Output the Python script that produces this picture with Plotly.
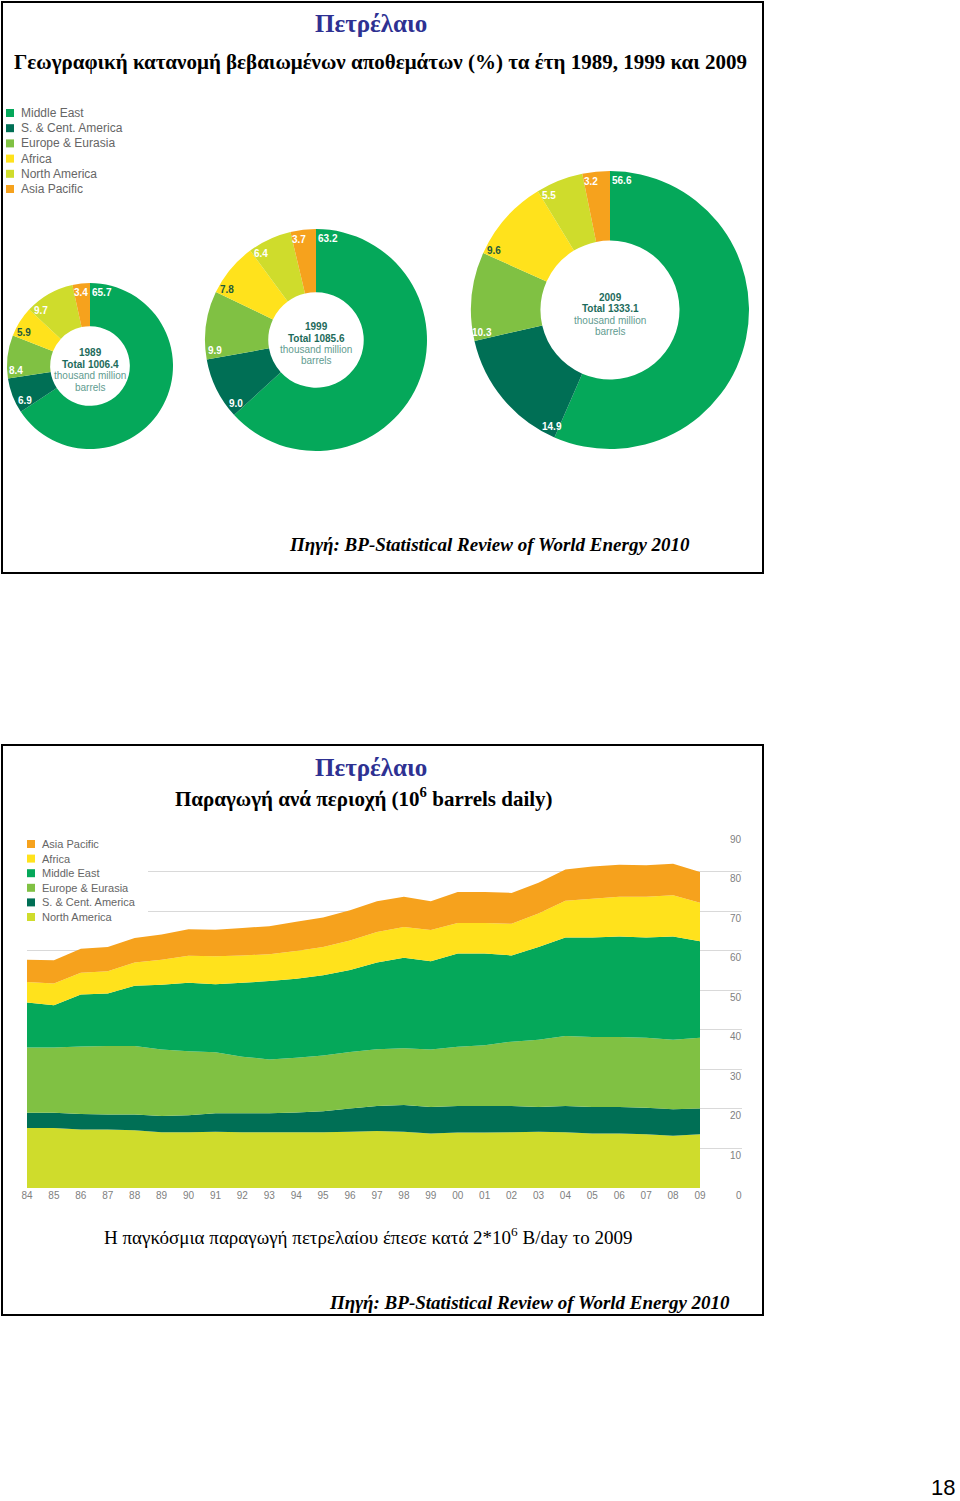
import math
import plotly.graph_objects as go

W, H = 960, 1501

# ---------------- data ----------------
pie_regions = ["Middle East", "S. & Cent. America", "Europe & Eurasia",
               "Africa", "North America", "Asia Pacific"]
share_1989 = [65.7, 6.9, 8.4, 5.9, 9.7, 3.4]
share_1999 = [63.2, 9.0, 9.9, 7.8, 6.4, 3.7]
share_2009 = [56.6, 14.9, 10.3, 9.6, 5.5, 3.2]
pie_years = ["1989", "1999", "2009"]
pie_totals = ["1006.4", "1085.6", "1333.1"]

years = list(range(1984, 2010))
year_labels = ["84", "85", "86", "87", "88", "89", "90", "91", "92", "93", "94",
               "95", "96", "97", "98", "99", "00", "01", "02", "03", "04", "05",
               "06", "07", "08", "09"]
north_america = [15.2, 15.2, 14.8, 14.8, 14.6, 14.1, 14.1, 14.2, 14.1, 14.1, 14.1, 14.1, 14.2,
                 14.4, 14.2, 13.8, 14.0, 14.0, 14.1, 14.2, 14.1, 13.8, 13.8, 13.6, 13.2, 13.6]
s_cent_america = [3.8, 3.8, 3.9, 3.8, 4.0, 4.1, 4.3, 4.7, 4.8, 4.8, 5.0, 5.3, 5.9,
                  6.3, 6.8, 6.7, 6.7, 6.7, 6.6, 6.3, 6.6, 6.7, 6.7, 6.7, 6.7, 6.5]
europe_eurasia = [16.5, 16.5, 17.1, 17.3, 17.3, 16.8, 16.2, 15.4, 14.3, 13.6, 13.8, 14.1, 14.3,
                  14.4, 14.3, 14.5, 15.0, 15.4, 16.3, 17.0, 17.7, 17.7, 17.7, 17.7, 17.6, 17.9]
middle_east = [11.4, 10.7, 13.1, 13.3, 15.2, 16.4, 17.3, 17.2, 18.7, 19.8, 20.0, 20.3, 20.7,
               21.9, 22.9, 22.3, 23.6, 23.2, 21.8, 23.4, 24.9, 25.1, 25.4, 25.3, 26.1, 24.4]
africa = [5.2, 5.5, 5.5, 5.6, 5.9, 6.3, 6.8, 7.1, 6.9, 6.8, 7.0, 7.1, 7.5,
          7.7, 7.8, 7.9, 7.7, 7.7, 8.0, 8.5, 9.3, 9.8, 10.0, 10.3, 10.4, 9.7]
asia_pacific = [5.6, 5.9, 6.1, 6.1, 6.2, 6.4, 6.7, 6.7, 6.9, 7.1, 7.4, 7.5, 7.6,
                7.8, 7.6, 7.3, 7.8, 7.8, 7.8, 7.8, 7.9, 8.2, 8.1, 8.0, 8.0, 7.8]
y_ticks = [0, 10, 20, 30, 40, 50, 60, 70, 80, 90]

# ---------------- styles ----------------
colors = {
    "Middle East": "#05a85a",
    "S. & Cent. America": "#006f55",
    "Europe & Eurasia": "#80c143",
    "Africa": "#ffe21c",
    "North America": "#cfdc2c",
    "Asia Pacific": "#f6a21d",
}
label_font_colors = {
    "Middle East": "white", "S. & Cent. America": "white", "Europe & Eurasia": "white",
    "Africa": "#1f5a3c", "North America": "white", "Asia Pacific": "white",
}
SERIF = "Liberation Serif"
SANS = "Liberation Sans"
NAVY = "#2e3192"
TICK_GRAY = "#808080"


def px(x):
    return x / W


def py(y):
    return 1 - y / H


fig = go.Figure()
annotations = []
shapes = []

# ---------------- donuts ----------------
pie_geom = [(90, 366, 83, 0.48), (316, 340, 111, 0.43), (610, 310, 139, 0.50)]
for shares, yr, tot, (cx, cy, R, hole) in zip([share_1989, share_1999, share_2009],
                                              pie_years, pie_totals, pie_geom):
    fig.add_trace(go.Pie(
        labels=pie_regions, values=shares, sort=False, direction="clockwise",
        rotation=0, hole=hole, textinfo="none", showlegend=False, automargin=False,
        marker=dict(colors=[colors[r] for r in pie_regions], line=dict(width=0)),
        domain=dict(x=[px(cx - R), px(cx + R)], y=[py(cy + R), py(cy - R)]),
    ))
    total = sum(shares)
    cum = 0.0
    for i, (name, v) in enumerate(zip(pie_regions, shares)):
        th0 = cum / total * 2 * math.pi
        r = R - 9
        arc = 12 if i == 0 else 7
        th = th0 + arc / r
        lx = cx + r * math.sin(th)
        ly = cy - r * math.cos(th)
        annotations.append(dict(
            x=px(lx), y=py(ly), xref="paper", yref="paper", showarrow=False,
            text=f"<b>{v:.1f}</b>", xanchor="center", yanchor="middle",
            font=dict(family=SANS, size=10, color=label_font_colors[name])))
        cum += v
    center_lines = [(f"<b>{yr}</b>", -13, "#1d6b5b"),
                    (f"<b>Total {tot}</b>", -1.5, "#1d6b5b"),
                    ("thousand million", 10, "#5f9c90"),
                    ("barrels", 21, "#5f9c90")]
    for txt, dy, col in center_lines:
        annotations.append(dict(
            x=px(cx), y=py(cy + dy), xref="paper", yref="paper", showarrow=False,
            text=txt, xanchor="center", yanchor="middle",
            font=dict(family=SANS, size=10, color=col)))

# top legend
for i, name in enumerate(pie_regions):
    yc = 113 + 15.2 * i
    shapes.append(dict(type="rect", xref="paper", yref="paper",
                       x0=px(6), x1=px(14), y0=py(yc + 4), y1=py(yc - 4),
                       fillcolor=colors[name], line=dict(width=0)))
    annotations.append(dict(x=px(19), y=py(yc), xref="paper", yref="paper",
                            showarrow=False, text=name, xanchor="left", yanchor="middle",
                            font=dict(family=SANS, size=12, color="#666666")))

# ---------------- stacked area ----------------
stack = [("North America", north_america), ("S. & Cent. America", s_cent_america),
         ("Europe & Eurasia", europe_eurasia), ("Middle East", middle_east),
         ("Africa", africa), ("Asia Pacific", asia_pacific)]
for name, vals in stack:
    fig.add_trace(go.Scatter(
        x=years, y=vals, name=name, stackgroup="prod", mode="none",
        fillcolor=colors[name], line=dict(width=0), showlegend=False,
        xaxis="x", yaxis="y"))

px_per_year = (700 - 27) / 25
fig.update_layout(
    xaxis=dict(domain=[px(27), px(742)],
               range=[1984, 1984 + (742 - 27) / px_per_year],
               tickvals=years, ticktext=year_labels, showgrid=False, zeroline=False,
               showline=False, ticks="", anchor="y", automargin=False,
               tickfont=dict(family=SANS, size=10, color=TICK_GRAY)),
    yaxis=dict(domain=[py(1188), py(832)], range=[0, 90], tickvals=y_ticks,
               side="right", anchor="x", showgrid=True, gridcolor="#d9d9d9",
               gridwidth=1, zeroline=False, showline=False, ticks="",
               showticklabels=False, automargin=False),
)
# y tick labels sit just under their grid lines, right-aligned at the grid end
for v in y_ticks:
    annotations.append(dict(x=px(744), y=v, xref="paper", yref="y", showarrow=False,
                            text=str(v), xanchor="right", yanchor="middle", yshift=-7,
                            font=dict(family=SANS, size=10, color=TICK_GRAY)))

# bottom legend (white box hides grid lines)
legend_order = ["Asia Pacific", "Africa", "Middle East", "Europe & Eurasia",
                "S. & Cent. America", "North America"]
shapes.append(dict(type="rect", xref="paper", yref="paper", layer="above",
                   x0=px(22), x1=px(148), y0=py(930), y1=py(836),
                   fillcolor="white", line=dict(width=0)))
for i, name in enumerate(legend_order):
    yc = 844 + 14.6 * i
    shapes.append(dict(type="rect", xref="paper", yref="paper", layer="above",
                       x0=px(27), x1=px(35), y0=py(yc + 4), y1=py(yc - 4),
                       fillcolor=colors[name], line=dict(width=0)))
    annotations.append(dict(x=px(40), y=py(yc), xref="paper", yref="paper",
                            showarrow=False, text=name, xanchor="left", yanchor="middle",
                            font=dict(family=SANS, size=11, color="#666666")))

# ---------------- frames ----------------
for (x0, y0, x1, y1) in [(2, 2, 763, 573), (2, 745, 763, 1315)]:
    shapes.append(dict(type="rect", xref="paper", yref="paper", layer="above",
                       x0=px(x0), x1=px(x1), y0=py(y1), y1=py(y0),
                       line=dict(color="black", width=2), fillcolor="rgba(0,0,0,0)"))

# ---------------- texts ----------------
texts = [
    ("<b>Πετρέλαιο</b>", 371, 23, 25, NAVY),
    ("<b>Γεωγραφική κατανομή βεβαιωμένων αποθεμάτων (%) τα έτη 1989, 1999 και 2009</b>", 380, 62, 21, "black"),
    ("<b><i>Πηγή: BP-Statistical Review of World Energy 2010</i></b>", 489, 545, 19, "black"),
    ("<b>Πετρέλαιο</b>", 371, 767, 25, NAVY),
    ("<b>Παραγωγή ανά περιοχή (10<sup>6</sup> barrels daily)</b>", 364, 797, 21, "black"),
    ("Η παγκόσμια παραγωγή πετρελαίου έπεσε κατά 2*10<sup>6</sup> B/day το 2009", 368, 1236, 19, "black"),
    ("<b><i>Πηγή: BP-Statistical Review of World Energy 2010</i></b>", 529, 1302, 19, "black"),
]
for txt, x, y, size, col in texts:
    annotations.append(dict(x=px(x), y=py(y), xref="paper", yref="paper", showarrow=False,
                            text=txt, xanchor="center", yanchor="middle",
                            font=dict(family=SERIF, size=size, color=col)))
annotations.append(dict(x=px(943), y=py(1487), xref="paper", yref="paper", showarrow=False,
                        text="18", xanchor="center", yanchor="middle",
                        font=dict(family=SANS, size=22, color="black")))

fig.update_layout(
    width=W, height=H, margin=dict(l=0, r=0, t=0, b=0, pad=0, autoexpand=False),
    autosize=False, paper_bgcolor="white", plot_bgcolor="white", showlegend=False,
    annotations=annotations, shapes=shapes,
)

fig.write_html(
    "out.html",
    config={"displayModeBar": False, "responsive": False},
    post_script=("document.documentElement.style.margin='0';"
                 "document.body.style.margin='0';document.body.style.overflow='hidden';"),
)
